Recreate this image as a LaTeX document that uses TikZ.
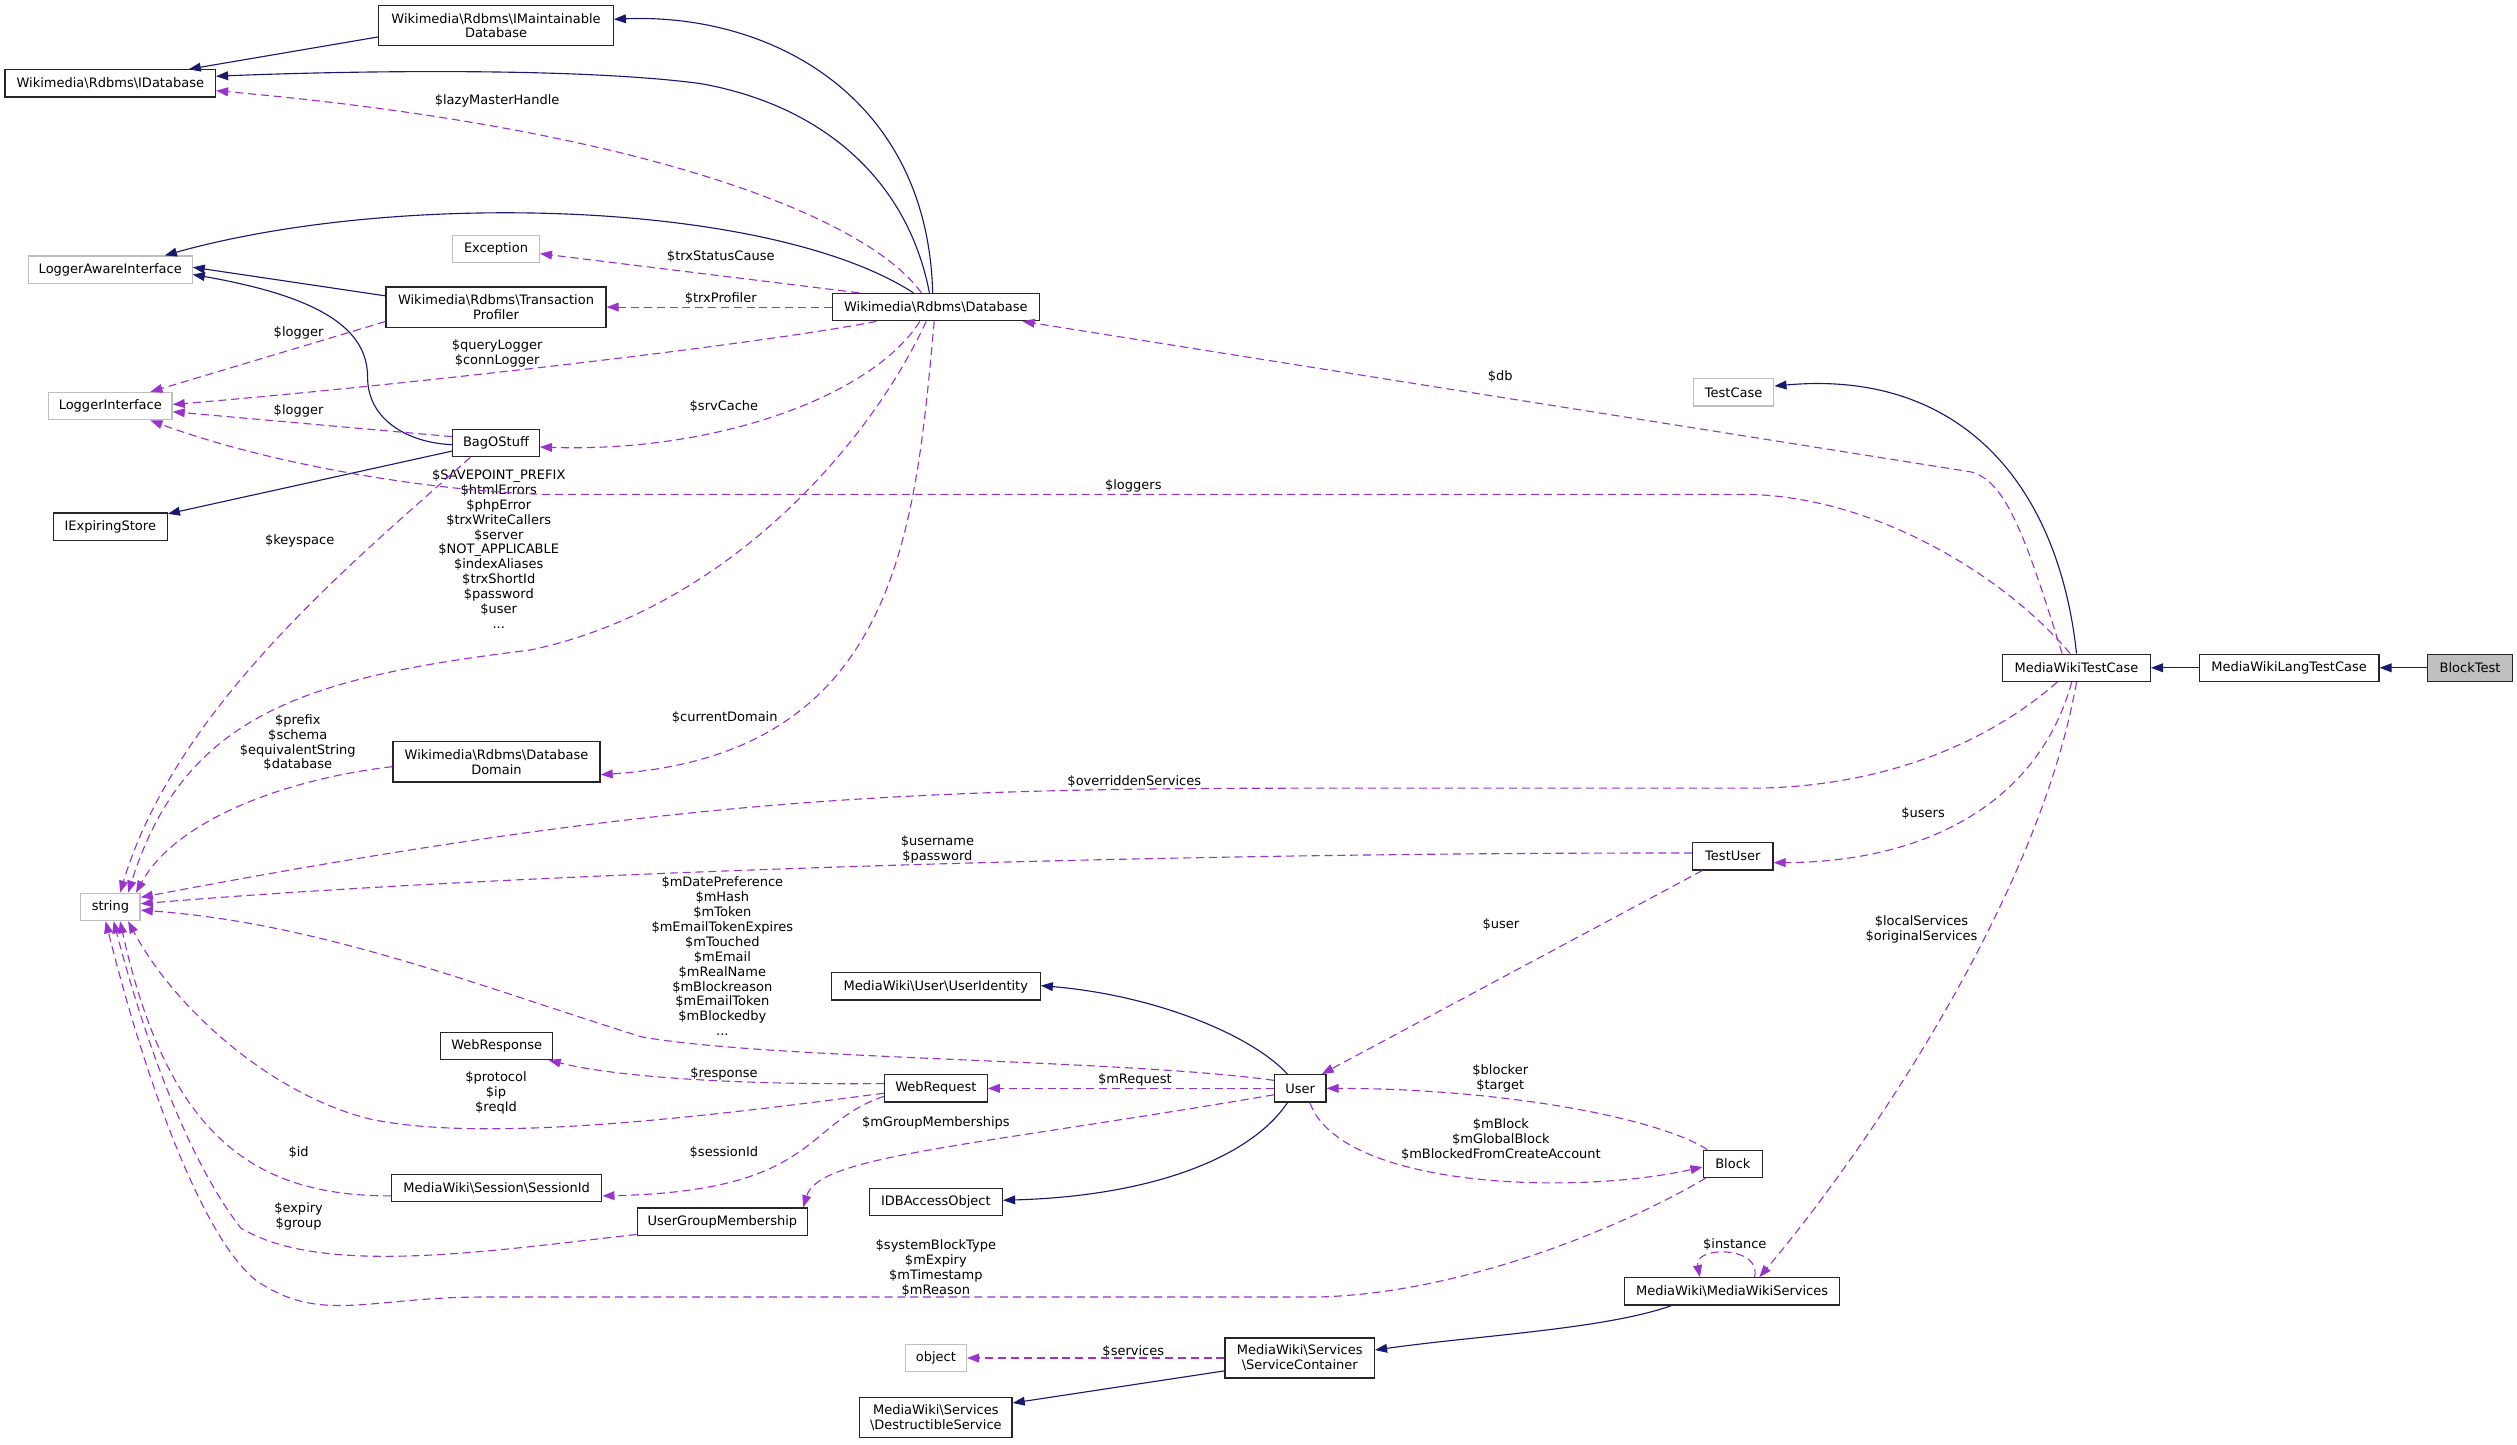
\documentclass[tikz,border=0pt]{standalone}
\usepackage{fontspec}
\setmainfont{DejaVu Sans}
\usetikzlibrary{arrows.meta}
\definecolor{navy}{HTML}{191970}
\definecolor{purp}{HTML}{9A32CD}
\definecolor{grayb}{HTML}{BFBFBF}
\newcommand{\bs}{\textbackslash}
\begin{document}
\begin{tikzpicture}[x=1pt,y=-1pt,
  every node/.style={font=\fontsize{8.1}{9.3}\selectfont, inner sep=0pt},
  cls/.style={draw=black!85, line width=0.8pt, minimum height=17pt, align=center},
  ext/.style={cls, draw=grayb},
  inh/.style={draw=navy, line width=0.7pt, -{Triangle[length=7.5pt,width=5.5pt]}},
  use/.style={draw=purp, line width=0.7pt, dash pattern=on 5pt off 3pt, -{Triangle[length=7.5pt,width=5.5pt]}},
  lbl/.style={align=center}
]
\useasboundingbox (0,0) rectangle (1568,900);

% ---------- nodes ----------
\node[cls, minimum width=146pt, minimum height=25pt] (imaint) at (309,16) {Wikimedia\bs Rdbms\bs IMaintainable\\Database};
\node[cls, minimum width=131pt] (idb) at (68.7,52) {Wikimedia\bs Rdbms\bs IDatabase};
\node[ext, minimum width=102pt] (lai) at (68.7,168) {LoggerAwareInterface};
\node[ext, minimum width=54pt] (exc) at (309,155) {Exception};
\node[cls, minimum width=137pt, minimum height=25pt] (tp) at (309,191.3) {Wikimedia\bs Rdbms\bs Transaction\\Profiler};
\node[cls, minimum width=129pt] (db) at (583,191.3) {Wikimedia\bs Rdbms\bs Database};
\node[ext, minimum width=77pt] (li) at (68.7,253) {LoggerInterface};
\node[cls, minimum width=54pt] (bag) at (309,276) {BagOStuff};
\node[cls, minimum width=71pt] (ies) at (68.7,328) {IExpiringStore};
\node[ext, minimum width=50pt] (tc) at (1080,244.5) {TestCase};
\node[cls, minimum width=92pt] (mwtc) at (1293.6,416) {MediaWikiTestCase};
\node[cls, minimum width=112pt] (mwltc) at (1426,416) {MediaWikiLangTestCase};
\node[cls, minimum width=53pt, fill=grayb] (bt) at (1538.7,416) {BlockTest};
\node[cls, minimum width=129pt, minimum height=25pt] (dd) at (309.3,474.6) {Wikimedia\bs Rdbms\bs Database\\Domain};
\node[ext, minimum width=37pt] (str) at (68.8,565) {string};
\node[cls, minimum width=50pt] (tu) at (1079.5,533.4) {TestUser};
\node[cls, minimum width=130pt] (ui) at (583,614.5) {MediaWiki\bs User\bs UserIdentity};
\node[cls, minimum width=70pt] (wresp) at (309.4,651.5) {WebResponse};
\node[cls, minimum width=64pt] (wreq) at (583,678) {WebRequest};
\node[cls, minimum width=32pt] (user) at (810,678) {User};
\node[cls, minimum width=131pt] (sid) at (309.4,740) {MediaWiki\bs Session\bs SessionId};
\node[cls, minimum width=83pt] (idbao) at (583,748.7) {IDBAccessObject};
\node[cls, minimum width=106pt] (ugm) at (450,761) {UserGroupMembership};
\node[cls, minimum width=37pt] (blk) at (1079.5,725) {Block};
\node[cls, minimum width=134pt] (mws) at (1079,804.5) {MediaWiki\bs MediaWikiServices};
\node[ext, minimum width=38pt] (obj) at (583,846) {object};
\node[cls, minimum width=93pt, minimum height=25pt] (sc) at (809.7,846) {MediaWiki\bs Services\\\bs ServiceContainer};
\node[cls, minimum width=95pt, minimum height=25pt] (ds) at (583,883) {MediaWiki\bs Services\\\bs DestructibleService};

% ---------- inheritance ----------
\draw[inh] ([yshift=-7pt]imaint.west) -- ([xshift=-17pt]idb.north east);
\draw[inh] ([xshift=-2pt]db.north) .. controls (578,60) and (480,8) .. ([yshift=4pt]imaint.east);
\draw[inh] ([xshift=-4pt]db.north) .. controls (565,110) and (510,65) .. (436,52) .. controls (360,42) and (220,44) .. ([yshift=4.5pt]idb.east);
\draw[inh] ([xshift=-14pt]db.north) .. controls (480,125) and (250,118) .. ([xshift=34pt]lai.north);
\draw[inh] ([yshift=7pt]tp.west) -- ([yshift=1.5pt]lai.east);
\draw[inh] ([yshift=-1pt]bag.west) .. controls (255,276) and (229,262) .. (229,235) .. controls (229,205) and (200,185) .. ([yshift=-3pt]lai.east);
\draw[inh] ([yshift=-5pt]bag.west) -- ([yshift=-1pt]ies.north east);
\draw[inh] (mwtc.north) .. controls (1282,300) and (1220,230) .. ([yshift=4pt]tc.east);
\draw[inh] (mwltc.west) -- (mwtc.east);
\draw[inh] (bt.west) -- (mwltc.east);
\draw[inh] ([xshift=-8pt]user.north) .. controls (780,645) and (720,620) .. ([yshift=0.5pt]ui.east);
\draw[inh] ([xshift=-8pt]user.south) .. controls (780,720) and (720,745) .. ([yshift=1pt]idbao.east);
\draw[inh] ([xshift=-38pt]mws.south) .. controls (1000,828) and (920,832) .. ([yshift=5pt]sc.east);
\draw[inh] ([yshift=-8pt]sc.west) -- ([yshift=9pt]ds.east);

% ---------- usage ----------
\draw[use] ([xshift=-9pt]db.north) .. controls (540,135) and (400,80) .. ([yshift=-4.5pt]idb.east);
\node[lbl] (l1) at (309.7,62.8) {\$lazyMasterHandle};

\draw[use] ([xshift=-48pt]db.north) -- ([yshift=-3pt]exc.east);
\node[lbl] (l2) at (449,160) {\$trxStatusCause};

\draw[use] (db.west) -- (tp.east);
\node[lbl] (l3) at (449,186) {\$trxProfiler};

\draw[use] ([xshift=-37pt]db.south) .. controls (470,215) and (250,240) .. ([yshift=1pt]li.east);
\node[lbl] (l4) at (309.7,220.3) {\$queryLogger\\\$connLogger};

\draw[use] ([xshift=-10pt]db.south) .. controls (545,245) and (450,282) .. ([yshift=-2.5pt]bag.east);
\node[lbl] (l5) at (451,253) {\$srvCache};

\draw[use] ([xshift=-6pt]db.south) .. controls (540,280) and (450,380) .. (330,405) .. controls (190,422) and (115,445) .. ([xshift=11pt]str.north);
\node[lbl] (l6) at (310.7,342) {\$SAVEPOINT\_PREFIX\\\$htmlErrors\\\$phpError\\\$trxWriteCallers\\\$server\\\$NOT\_APPLICABLE\\\$indexAliases\\\$trxShortId\\\$password\\\$user\\...};

\draw[use] ([xshift=-1pt]db.south) .. controls (570,330) and (560,470) .. ([yshift=-8pt]dd.east);
\node[lbl] (l7) at (451.5,446.8) {\$currentDomain};

\draw[use] ([xshift=-16pt]bag.south) .. controls (220,350) and (110,440) .. ([xshift=6pt]str.north);
\node[lbl] (l8) at (186.7,337) {\$keyspace};

\draw[use] ([yshift=-9pt]tp.west) -- ([xshift=25pt]li.north);
\node[lbl] (l9) at (186,207.6) {\$logger};

\draw[use] ([yshift=4pt]bag.west) -- ([yshift=-3.5pt]li.east);
\node[lbl] (l10) at (186,256) {\$logger};

\draw[use] ([yshift=-3pt]dd.west) .. controls (180,485) and (110,510) .. ([xshift=-3pt]str.north east);
\node[lbl] (l11) at (185.5,462.6) {\$prefix\\\$schema\\\$equivalentString\\\$database};

\draw[use] ([xshift=-9pt]mwtc.north) .. controls (1262,335) and (1250,300) .. (1228,294) -- ([xshift=54pt]db.south);
\node[lbl] (l12) at (934.6,234.7) {\$db};

\draw[use] ([xshift=-4pt]mwtc.north) .. controls (1250,360) and (1170,310) .. (1090,308) -- (340,308) .. controls (270,306) and (170,290) .. ([xshift=25pt]li.south);
\node[lbl] (l13) at (706,302.6) {\$loggers};

\draw[use] ([xshift=-12pt]mwtc.south) .. controls (1230,470) and (1160,491) .. (1090,491) -- (810,491) .. controls (550,491) and (400,500) .. ([yshift=6pt]str.east);
\node[lbl] (l14) at (706.6,487) {\$overriddenServices};

\draw[use] ([xshift=-3pt]mwtc.south) .. controls (1270,500) and (1200,537) .. ([yshift=-4pt]tu.east);
\node[lbl] (l15) at (1198,507) {\$users};

\draw[use] (mwtc.south) .. controls (1270,560) and (1160,720) .. ([xshift=17pt]mws.north);
\node[lbl] (l16) at (1197,579) {\$localServices\\\$originalServices};

\draw[use] ([yshift=2pt]tu.west) .. controls (700,531) and (300,545) .. ([yshift=2pt]str.east);
\node[lbl] (l17) at (584,529) {\$username\\\$password};

\draw[use] ([xshift=-19pt]tu.south) -- ([xshift=-3pt]user.north east);
\node[lbl] (l18) at (935,576) {\$user};

\draw[use] ([yshift=5pt]user.west) .. controls (700,660) and (480,660) .. (400,646) .. controls (300,615) and (200,575) .. ([yshift=-2pt]str.east);
\node[lbl] (l19) at (450,595.7) {\$mDatePreference\\\$mHash\\\$mToken\\\$mEmailTokenExpires\\\$mTouched\\\$mEmail\\\$mRealName\\\$mBlockreason\\\$mEmailToken\\\$mBlockedby\\...};

\draw[use] (user.west) -- (wreq.east);
\node[lbl] (l20) at (707,673) {\$mRequest};

\draw[use] ([yshift=-4pt]user.west) .. controls (600,715) and (510,720) .. ([xshift=-3pt]ugm.north east);
\node[lbl] (l21) at (583,699.5) {\$mGroupMemberships};

\draw[use] ([xshift=6pt]user.south) .. controls (835,740) and (980,745) .. ([yshift=-2pt]blk.west);
\node[lbl] (l22) at (935,709.6) {\$mBlock\\\$mGlobalBlock\\\$mBlockedFromCreateAccount};

\draw[use] ([xshift=3pt]blk.north west) .. controls (1030,695) and (930,678) .. (user.east);
\node[lbl] (l23) at (934.6,671.6) {\$blocker\\\$target};

\draw[use] ([yshift=3pt]wreq.west) .. controls (450,676) and (380,670) .. ([xshift=-3pt]wresp.south east);
\node[lbl] (l24) at (451,669) {\$response};

\draw[use] ([yshift=-3pt]wreq.west) .. controls (430,697) and (300,712) .. (230,697) .. controls (170,682) and (110,630) .. ([xshift=11pt]str.south);
\node[lbl] (l25) at (309,680.6) {\$protocol\\\$ip\\\$reqId};

\draw[use] ([yshift=-5pt]wreq.west) .. controls (500,700) and (510,742) .. ([yshift=-5pt]sid.east);
\node[lbl] (l26) at (451,718) {\$sessionId};

\draw[use] ([yshift=-5pt]sid.west) .. controls (160,745) and (105,710) .. ([xshift=6pt]str.south);
\node[lbl] (l27) at (186,718) {\$id};

\draw[use] ([yshift=-8pt]ugm.west) .. controls (300,780) and (200,795) .. (150,765) .. controls (115,720) and (88,640) .. ([xshift=2pt]str.south);
\node[lbl] (l28) at (186,758) {\$expiry\\\$group};

\draw[use] ([xshift=2pt]blk.south west) .. controls (1010,765) and (910,806) .. (820,808) -- (300,808) .. controls (230,808) and (200,825) .. (160,798) .. controls (130,775) and (95,690) .. ([xshift=-3pt]str.south);
\node[lbl] (l29) at (583,789.7) {\$systemBlockType\\\$mExpiry\\\$mTimestamp\\\$mReason};

\draw[use] ([xshift=14pt]mws.north) .. controls (1098,776) and (1055,776) .. ([xshift=-20pt]mws.north);
\node[lbl] (l30) at (1080.7,775) {\$instance};

\draw[use] (sc.west) -- (obj.east);
\node[lbl] (l31) at (706,841.7) {\$services};

\end{tikzpicture}
\end{document}
